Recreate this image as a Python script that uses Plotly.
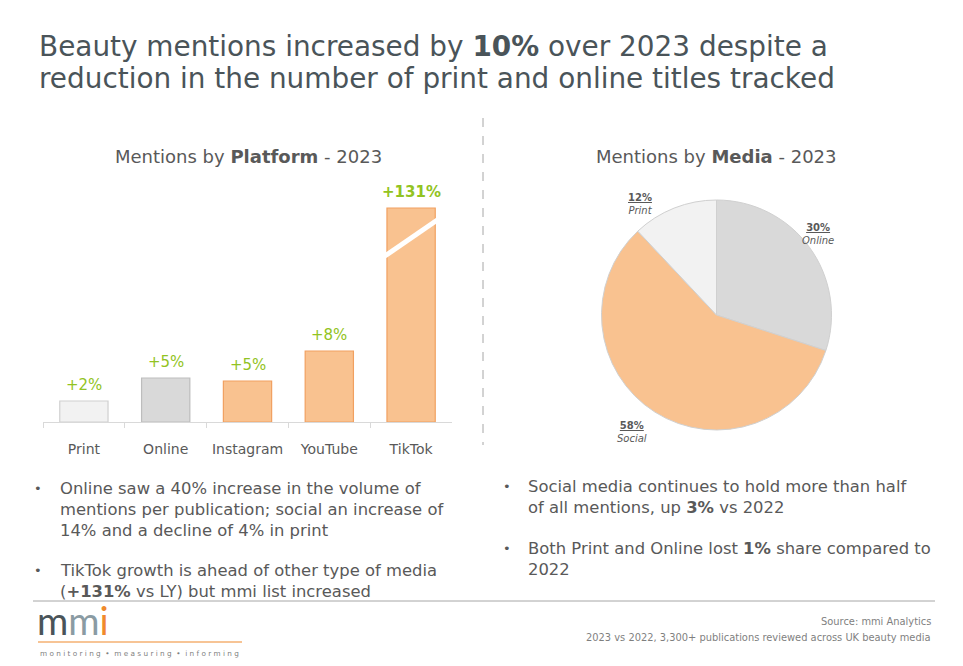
import plotly.graph_objects as go

W, H = 963, 666

# ---------------- data ----------------
platforms = ["Print", "Online", "Instagram", "YouTube", "TikTok"]
bar_heights = [21, 44, 41, 71, 214]          # relative mentions (TikTok axis broken)
growth_labels = ["+2%", "+5%", "+5%", "+8%", "+131%"]
bar_colors = ["#f2f2f2", "#d9d9d9", "#f9c290", "#f9c290", "#f9c290"]
bar_lines = ["#d0d0d0", "#bdbdbd", "#f1a060", "#f1a060", "#f1a060"]

media = ["Online", "Social", "Print"]
media_share = [30, 58, 12]
media_colors = ["#d9d9d9", "#f9c290", "#f2f2f2"]

FONT = "DejaVu Sans"
GREY = "#595959"
GREEN = "#92c322"


def px(x):
    return x / W


def py(y):
    return 1 - y / H


fig = go.Figure()

fig.add_trace(go.Bar(
    x=platforms, y=bar_heights,
    marker=dict(color=bar_colors, line=dict(color=bar_lines, width=1.2)),
    hoverinfo="skip", showlegend=False,
))

fig.add_trace(go.Pie(
    labels=media, values=media_share, sort=False, direction="clockwise",
    rotation=0, textinfo="none", hoverinfo="skip", showlegend=False,
    marker=dict(colors=media_colors, line=dict(color="#d0d0d0", width=1)),
    domain=dict(x=[px(601), px(832)], y=[py(430), py(200)]),
))

annotations = []

# growth labels above bars
for i, (cat, val, lab) in enumerate(zip(platforms, bar_heights, growth_labels)):
    bold = i == len(platforms) - 1
    annotations.append(dict(
        x=cat, y=val, xref="x", yref="y", yanchor="bottom", yshift=5,
        text=f"<b>{lab}</b>" if bold else lab, showarrow=False,
        font=dict(family=FONT, size=15, color=GREEN),
    ))

# pie labels
pie_label_pos = {"Print": (655, 190), "Online": (836, 234), "Social": (632, 432)}
for name, share in zip(media, media_share):
    x, y = pie_label_pos[name]
    annotations.append(dict(
        x=px(x), y=py(y), xref="paper", yref="paper", showarrow=False,
        text=f"<b><u>{share}%</u></b><br><i>{name}</i>", align="center",
        font=dict(family=FONT, size=10, color=GREY),
    ))


def txt(x, y, text, size, color=GREY, xanchor="left", yanchor="middle", family=FONT):
    annotations.append(dict(
        x=px(x), y=py(y), xref="paper", yref="paper", showarrow=False,
        text=text, xanchor=xanchor, yanchor=yanchor, align=xanchor if xanchor != "center" else "center",
        font=dict(family=family, size=size, color=color),
    ))


TITLE_C = "#4a5459"
txt(37, 46, "Beauty mentions increased by <b>10%</b> over 2023 despite a", 27.9, TITLE_C)
txt(37, 78, "reduction in the number of print and online titles tracked", 27.9, TITLE_C)

txt(248, 157, "Mentions by <b>Platform</b> - 2023", 18, GREY, "center")
txt(716, 157, "Mentions by <b>Media</b> - 2023", 18, GREY, "center")

# bullets left
BS = 16.4
txt(32, 488, "•", 13)
txt(58, 488, "Online saw a 40% increase in the volume of", BS)
txt(58, 509, "mentions per publication; social an increase of", BS)
txt(58, 530, "14% and a decline of 4% in print", BS)
txt(32, 570, "•", 13)
txt(58, 570, "TikTok growth is ahead of other type of media", BS)
txt(58, 591, "(<b>+131%</b> vs LY) but mmi list increased", BS)

# bullets right
txt(501, 486, "•", 13)
txt(526, 486, "Social media continues to hold more than half", BS)
txt(526, 507, "of all mentions, up <b>3%</b> vs 2022", BS)
txt(501, 548, "•", 13)
txt(526, 548, "Both Print and Online lost <b>1%</b> share compared to", BS)
txt(526, 569, "2022", BS)

# source
txt(933, 621, "Source: mmi Analytics", 9.9, "#7f7f7f", "right")
txt(933, 637, "2023 vs 2022, 3,300+ publications reviewed across UK beauty media", 9.9, "#7f7f7f", "right")

# logo
annotations.append(dict(
    x=px(35), y=py(645), xref="paper", yref="paper", showarrow=False, xanchor="left", yanchor="bottom",
    text="<span style='color:#4a5459'>m</span><span style='color:#8a9ba3'>m</span><span style='color:#f08a2c'>i</span>",
    font=dict(family="Lato", size=38, color="#4a5459"),
))
txt(38, 653, "m o n i t o r i n g  •  m e a s u r i n g  •  i n f o r m i n g", 7.3, "#7f7f7f")

shapes = [
    # dashed separator
    dict(type="line", xref="paper", yref="paper", x0=px(483), x1=px(483), y0=py(118), y1=py(445),
         line=dict(color="#a6a6a6", width=1, dash="dash")),
    # bottom separator
    dict(type="line", xref="paper", yref="paper", x0=px(33), x1=px(935), y0=py(601), y1=py(601),
         line=dict(color="#a6a6a6", width=1)),
    # orange logo line
    dict(type="line", xref="paper", yref="paper", x0=px(38), x1=px(242), y0=py(642), y1=py(642),
         line=dict(color="#f08a2c", width=1.2)),
    # axis break on TikTok bar
    dict(type="line", xref="x", yref="y", x0=3.68, x1=4.32, y0=bar_heights[4] - 48, y1=bar_heights[4] - 12,
         line=dict(color="white", width=5)),
]

fig.update_layout(
    width=W, height=H,
    margin=dict(l=0, r=0, t=0, b=0),
    paper_bgcolor="white", plot_bgcolor="white",
    bargap=0.41,
    xaxis=dict(domain=[px(43), px(452)], showline=True, linecolor="#d9d9d9", linewidth=1,
               ticks="outside", ticklen=5, tickcolor="#d9d9d9", tickson="boundaries",
               ticklabelstandoff=14,
               tickfont=dict(family=FONT, size=14, color=GREY), showgrid=False, fixedrange=True),
    yaxis=dict(domain=[py(422), py(182)], range=[0, 240], visible=False, showgrid=False, fixedrange=True),
    annotations=annotations,
    shapes=shapes,
)

fig.write_html("out.html", config={"displayModeBar": False},
               post_script="document.body.style.margin='0px';")
